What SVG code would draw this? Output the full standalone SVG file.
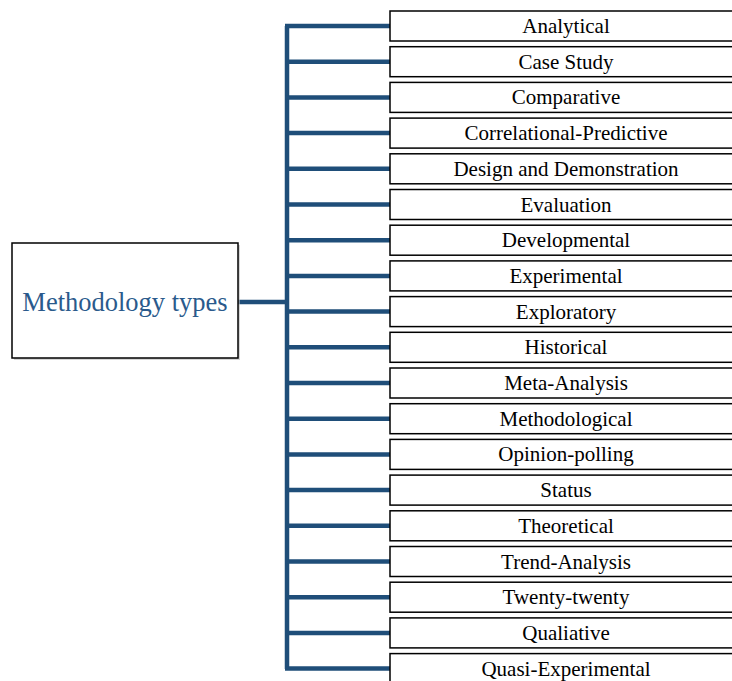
<svg xmlns="http://www.w3.org/2000/svg" width="732" height="681" viewBox="0 0 732 681">
<defs>
<style>
.box{fill:#fff;stroke:#000;stroke-width:1.5}
.sh{fill:#bbb;opacity:0.6}
.t{font-family:"Liberation Serif","Times New Roman",serif;font-size:21px;fill:#000;text-anchor:middle}
.mt{font-family:"Liberation Serif","Times New Roman",serif;font-size:26.5px;fill:#2a5a8c;text-anchor:middle}
.ln{stroke:#1f4e79;stroke-width:4.5;fill:none}
</style>
</defs>
<rect width="732" height="681" fill="#fff"/>
<g id="connectors">
<line class="ln" x1="287" y1="26" x2="287" y2="669"/>
<line class="ln" x1="238" y1="302" x2="287" y2="302"/>
<line class="ln" x1="285" y1="26" x2="390" y2="26"/>
<line class="ln" x1="285" y1="61.7" x2="390" y2="61.7"/>
<line class="ln" x1="285" y1="97.4" x2="390" y2="97.4"/>
<line class="ln" x1="285" y1="133.1" x2="390" y2="133.1"/>
<line class="ln" x1="285" y1="168.8" x2="390" y2="168.8"/>
<line class="ln" x1="285" y1="204.5" x2="390" y2="204.5"/>
<line class="ln" x1="285" y1="240.2" x2="390" y2="240.2"/>
<line class="ln" x1="285" y1="275.9" x2="390" y2="275.9"/>
<line class="ln" x1="285" y1="311.6" x2="390" y2="311.6"/>
<line class="ln" x1="285" y1="347.3" x2="390" y2="347.3"/>
<line class="ln" x1="285" y1="383" x2="390" y2="383"/>
<line class="ln" x1="285" y1="418.7" x2="390" y2="418.7"/>
<line class="ln" x1="285" y1="454.4" x2="390" y2="454.4"/>
<line class="ln" x1="285" y1="490.1" x2="390" y2="490.1"/>
<line class="ln" x1="285" y1="525.8" x2="390" y2="525.8"/>
<line class="ln" x1="285" y1="561.5" x2="390" y2="561.5"/>
<line class="ln" x1="285" y1="597.2" x2="390" y2="597.2"/>
<line class="ln" x1="285" y1="632.9" x2="390" y2="632.9"/>
<line class="ln" x1="285" y1="668.6" x2="390" y2="668.6"/>
</g>
<g id="root">
<rect class="sh" x="14" y="245" width="226" height="115"/>
<rect class="box" x="12" y="243" width="226" height="115"/>
<text class="mt" x="125" y="311">Methodology types</text>
</g>
<g id="n1"><rect class="box" x="390" y="11" width="350" height="30"/><text class="t" x="566" y="33">Analytical</text></g>
<g id="n2"><rect class="box" x="390" y="46.7" width="350" height="30"/><text class="t" x="566" y="68.7">Case Study</text></g>
<g id="n3"><rect class="box" x="390" y="82.4" width="350" height="30"/><text class="t" x="566" y="104.4">Comparative</text></g>
<g id="n4"><rect class="box" x="390" y="118.1" width="350" height="30"/><text class="t" x="566" y="140.1">Correlational-Predictive</text></g>
<g id="n5"><rect class="box" x="390" y="153.8" width="350" height="30"/><text class="t" x="566" y="175.8">Design and Demonstration</text></g>
<g id="n6"><rect class="box" x="390" y="189.5" width="350" height="30"/><text class="t" x="566" y="211.5">Evaluation</text></g>
<g id="n7"><rect class="box" x="390" y="225.2" width="350" height="30"/><text class="t" x="566" y="247.2">Developmental</text></g>
<g id="n8"><rect class="box" x="390" y="260.9" width="350" height="30"/><text class="t" x="566" y="282.9">Experimental</text></g>
<g id="n9"><rect class="box" x="390" y="296.6" width="350" height="30"/><text class="t" x="566" y="318.6">Exploratory</text></g>
<g id="n10"><rect class="box" x="390" y="332.3" width="350" height="30"/><text class="t" x="566" y="354.3">Historical</text></g>
<g id="n11"><rect class="box" x="390" y="368" width="350" height="30"/><text class="t" x="566" y="390">Meta-Analysis</text></g>
<g id="n12"><rect class="box" x="390" y="403.7" width="350" height="30"/><text class="t" x="566" y="425.7">Methodological</text></g>
<g id="n13"><rect class="box" x="390" y="439.4" width="350" height="30"/><text class="t" x="566" y="461.4">Opinion-polling</text></g>
<g id="n14"><rect class="box" x="390" y="475.1" width="350" height="30"/><text class="t" x="566" y="497.1">Status</text></g>
<g id="n15"><rect class="box" x="390" y="510.8" width="350" height="30"/><text class="t" x="566" y="532.8">Theoretical</text></g>
<g id="n16"><rect class="box" x="390" y="546.5" width="350" height="30"/><text class="t" x="566" y="568.5">Trend-Analysis</text></g>
<g id="n17"><rect class="box" x="390" y="582.2" width="350" height="30"/><text class="t" x="566" y="604.2">Twenty-twenty</text></g>
<g id="n18"><rect class="box" x="390" y="617.9" width="350" height="30"/><text class="t" x="566" y="639.9">Qualiative</text></g>
<g id="n19"><rect class="box" x="390" y="653.6" width="350" height="30"/><text class="t" x="566" y="675.6">Quasi-Experimental</text></g>
</svg>
